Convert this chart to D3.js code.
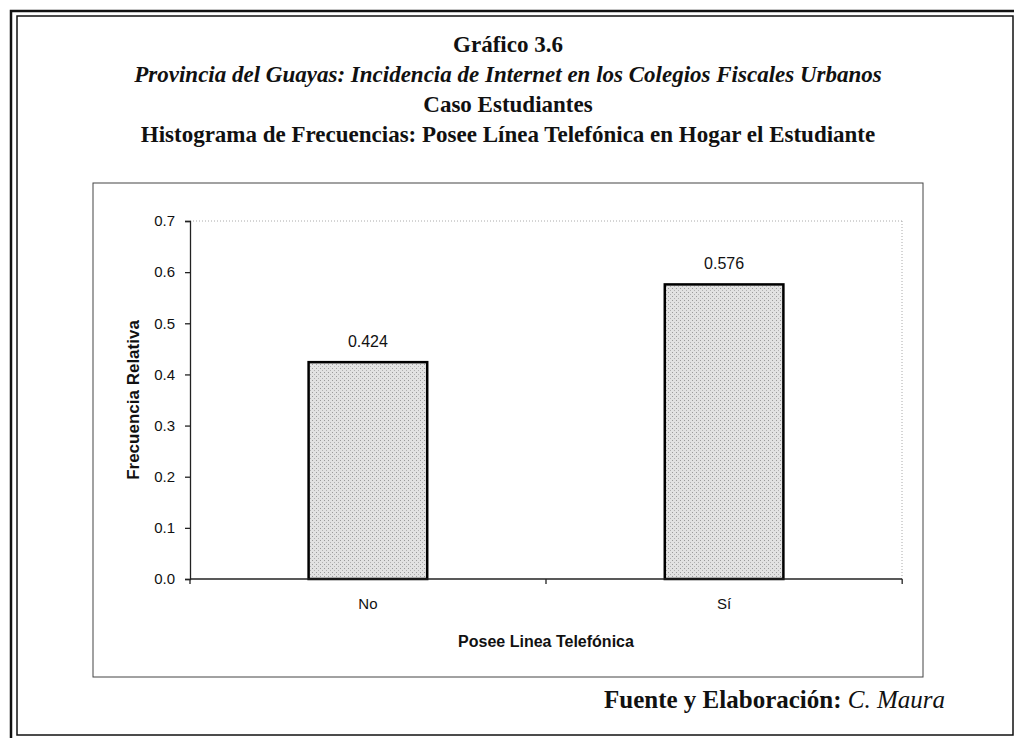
<!DOCTYPE html>
<html>
<head>
<meta charset="utf-8">
<script src="https://cdn.jsdelivr.net/npm/d3@7"></script>
<style>
  body { margin: 0; background: #fff; }
</style>
</head>
<body>
<div id="chart"></div>
<script>
// data
var categories = ['No', 'Sí'];
var frecuencias = [0.424, 0.576];
var yTicks = [0.0, 0.1, 0.2, 0.3, 0.4, 0.5, 0.6, 0.7];

var titulos = [
  { text: 'Gráfico 3.6', style: 'normal' },
  { text: 'Provincia del Guayas: Incidencia de Internet en los Colegios Fiscales Urbanos', style: 'italic' },
  { text: 'Caso Estudiantes', style: 'normal' },
  { text: 'Histograma de Frecuencias: Posee Línea Telefónica en Hogar el Estudiante', style: 'normal' }
];

var W = 1014, H = 738;
var svg = d3.select('#chart').append('svg')
    .attr('width', W)
    .attr('height', H)
    .style('background', '#fff');

// stippled grey fill like the scanned bars
var defs = svg.append('defs');
var pat = defs.append('pattern')
  .attr('id', 'punteado')
  .attr('patternUnits', 'userSpaceOnUse')
  .attr('width', 4).attr('height', 4);
pat.append('rect').attr('width', 4).attr('height', 4).style('fill', '#e2e2e2');
pat.append('rect').attr('x', 0).attr('y', 0).attr('width', 1).attr('height', 1).style('fill', '#9a9a9a');
pat.append('rect').attr('x', 2).attr('y', 2).attr('width', 1).attr('height', 1).style('fill', '#b0b0b0');

// double frame round the page
svg.append('rect')
  .attr('x', 11).attr('y', 11).attr('width', 1010).attr('height', 735)
  .style('fill', 'none').style('stroke', '#111').style('stroke-width', 2.5);
svg.append('rect')
  .attr('x', 17).attr('y', 16).attr('width', 996).attr('height', 719)
  .style('fill', 'none').style('stroke', '#111').style('stroke-width', 1.5);

// titles
var tituloY = [52, 82, 112, 142];
svg.selectAll('text.titulo')
  .data(titulos)
  .enter().append('text')
    .attr('class', 'titulo')
    .attr('x', 508)
    .attr('y', function(d, i) { return tituloY[i]; })
    .attr('text-anchor', 'middle')
    .style('font-family', 'Liberation Serif, Times New Roman, serif')
    .style('font-weight', 'bold')
    .style('font-style', function(d) { return d.style; })
    .style('font-size', '23px')
    .style('fill', '#111')
    .text(function(d) { return d.text; });

// chart area box
svg.append('rect')
  .attr('x', 93).attr('y', 183).attr('width', 830).attr('height', 494)
  .style('fill', 'none').style('stroke', '#444').style('stroke-width', 1);

var margin = { left: 190, right: 902, top: 221, bottom: 579 };

var x = d3.scaleBand()
  .domain(categories)
  .range([margin.left, margin.right])
  .paddingInner(0.667)
  .paddingOuter(0.333);

var y = d3.scaleLinear()
  .domain([0, 0.7])
  .range([margin.bottom, margin.top]);

// plot area border (top gridline + right side), dotted
svg.append('line')
  .attr('x1', margin.left).attr('x2', margin.right)
  .attr('y1', y(0.7)).attr('y2', y(0.7))
  .style('stroke', '#aaa').style('stroke-dasharray', '1,2');
svg.append('line')
  .attr('x1', margin.right).attr('x2', margin.right)
  .attr('y1', y(0.7)).attr('y2', y(0))
  .style('stroke', '#aaa').style('stroke-dasharray', '1,2');

// bars
var data = categories.map(function(c, i) { return { cat: c, val: frecuencias[i] }; });

svg.selectAll('rect.bar')
  .data(data)
  .enter().append('rect')
    .attr('class', 'bar')
    .attr('x', function(d) { return x(d.cat); })
    .attr('y', function(d) { return y(d.val); })
    .attr('width', x.bandwidth())
    .attr('height', function(d) { return y(0) - y(d.val); })
    .style('fill', 'url(#punteado)')
    .style('stroke', '#000')
    .style('stroke-width', 2.5);

// value labels
svg.selectAll('text.valor')
  .data(data)
  .enter().append('text')
    .attr('class', 'valor')
    .attr('x', function(d) { return x(d.cat) + x.bandwidth() / 2; })
    .attr('y', function(d) { return y(d.val) - 15; })
    .attr('text-anchor', 'middle')
    .style('font-family', 'Liberation Sans, Arial, sans-serif')
    .style('font-size', '16px')
    .style('fill', '#111')
    .text(function(d) { return d3.format('.3f')(d.val); });

// y axis
var yAxis = svg.append('g')
  .attr('transform', 'translate(' + margin.left + ',0)')
  .call(d3.axisLeft(y).tickValues(yTicks).tickFormat(d3.format('.1f')).tickSize(5).tickPadding(10));
yAxis.selectAll('text')
  .style('font-family', 'Liberation Sans, Arial, sans-serif')
  .style('font-size', '15px')
  .style('fill', '#111');
yAxis.selectAll('line, path').style('stroke', '#222').style('stroke-width', 1.3);

// x axis: Excel style ticks between the categories
var xAxis = svg.append('g')
  .attr('transform', 'translate(0,' + y(0) + ')');
xAxis.append('line')
  .attr('x1', margin.left).attr('x2', margin.right)
  .style('stroke', '#222').style('stroke-width', 1.3);
var cortes = [margin.left].concat(categories.map(function(c) { return x(c) + x.bandwidth() / 2 + x.step() / 2; }));
xAxis.selectAll('line.tick')
  .data(cortes)
  .enter().append('line')
    .attr('class', 'tick')
    .attr('x1', function(d) { return d; }).attr('x2', function(d) { return d; })
    .attr('y1', 0).attr('y2', 5)
    .style('stroke', '#222').style('stroke-width', 1.3);
xAxis.selectAll('text')
  .data(categories)
  .enter().append('text')
    .attr('x', function(d) { return x(d) + x.bandwidth() / 2; })
    .attr('y', 30)
    .attr('text-anchor', 'middle')
    .style('font-family', 'Liberation Sans, Arial, sans-serif')
    .style('font-size', '15px')
    .style('fill', '#111')
    .text(function(d) { return d; });

// axis titles
svg.append('text')
  .attr('x', (margin.left + margin.right) / 2)
  .attr('y', 647)
  .attr('text-anchor', 'middle')
  .style('font-family', 'Liberation Sans, Arial, sans-serif')
  .style('font-weight', 'bold')
  .style('font-size', '16px')
  .style('fill', '#111')
  .text('Posee Linea Telefónica');

svg.append('text')
  .attr('transform', 'translate(139,' + (margin.top + margin.bottom) / 2 + ') rotate(-90)')
  .attr('text-anchor', 'middle')
  .style('font-family', 'Liberation Sans, Arial, sans-serif')
  .style('font-weight', 'bold')
  .style('font-size', '17px')
  .style('fill', '#111')
  .text('Frecuencia Relativa');

// source note
var fuente = svg.append('text')
  .attr('x', 945)
  .attr('y', 708)
  .attr('text-anchor', 'end')
  .style('font-family', 'Liberation Serif, Times New Roman, serif')
  .style('font-size', '25px')
  .style('fill', '#111');
fuente.append('tspan').style('font-weight', 'bold').text('Fuente y Elaboración: ');
fuente.append('tspan').style('font-style', 'italic').text('C. Maura');
</script>
</body>
</html>
